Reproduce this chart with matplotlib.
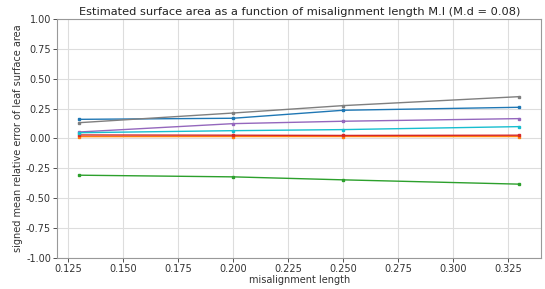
import matplotlib
matplotlib.use("Agg")
import matplotlib.pyplot as plt

# misalignment lengths (x) and signed mean relative error per series
misalignment_length = [0.13, 0.20, 0.25, 0.33]

err_blue = [0.160, 0.169, 0.236, 0.261]
err_orange = [0.015, 0.016, 0.016, 0.016]
err_green = [-0.308, -0.322, -0.347, -0.383]
err_red = [0.029, 0.027, 0.025, 0.027]
err_purple = [0.054, 0.124, 0.144, 0.166]
err_gray = [0.132, 0.213, 0.275, 0.350]
err_cyan = [0.048, 0.065, 0.074, 0.099]

series = [
    (err_blue, 'tab:blue'),
    (err_orange, 'tab:orange'),
    (err_green, 'tab:green'),
    (err_red, 'tab:red'),
    (err_purple, 'tab:purple'),
    (err_gray, 'tab:gray'),
    (err_cyan, 'tab:cyan'),
]

plt.rcParams['font.size'] = 7

fig, ax = plt.subplots(figsize=(5.45, 2.89), dpi=100)
fig.subplots_adjust(left=0.105, right=0.993, top=0.934, bottom=0.108)

for vals, col in series:
    ax.plot(misalignment_length, vals, color=col, marker='s', markersize=2, linewidth=1)

ax.set_ylim(-1, 1)
ax.set_yticks([-1, -0.75, -0.5, -0.25, 0, 0.25, 0.5, 0.75, 1])
ax.yaxis.set_major_formatter(matplotlib.ticker.FormatStrFormatter('%.2f'))
ax.grid(True, color='#dddddd', linewidth=0.8)
ax.set_axisbelow(True)
for sp in ax.spines.values():
    sp.set_color('#999999')
ax.tick_params(colors='#333333', length=3, width=0.6, labelsize=7, pad=1.5)
ax.set_xlabel('misalignment length', fontsize=7, color='#333333', labelpad=1)
ax.set_ylabel('signed mean relative error of leaf surface area', fontsize=7, color='#333333', labelpad=2)
ax.set_title('Estimated surface area as a function of misalignment length M.l (M.d = 0.08)',
             fontsize=8.2, color='#222222', pad=3)

fig.savefig('out.png', dpi=100)
